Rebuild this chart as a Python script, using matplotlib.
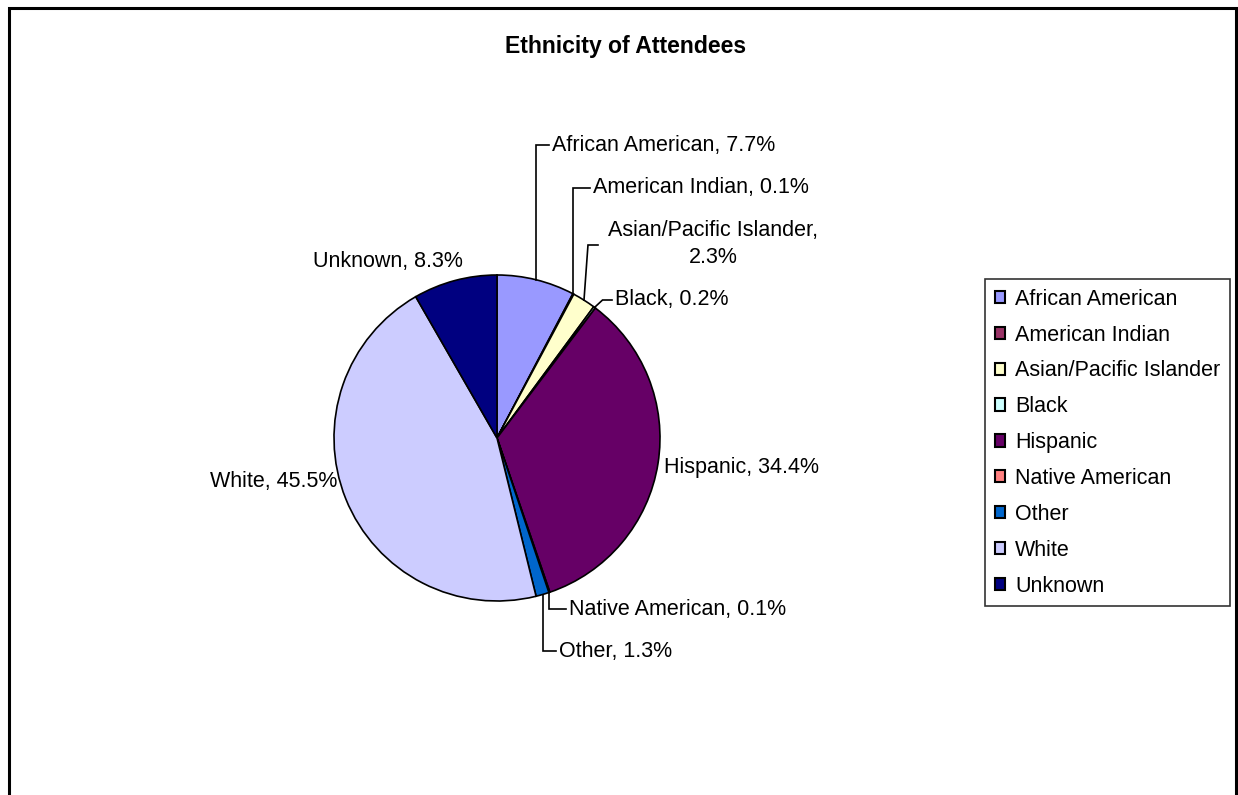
import numpy as np
import matplotlib.pyplot as plt

plt.rcParams['font.family'] = ['Liberation Sans', 'DejaVu Sans']

# Data
groups = ['African American', 'American Indian', 'Asian/Pacific Islander', 'Black',
          'Hispanic', 'Native American', 'Other', 'White', 'Unknown']
shares = [7.7, 0.1, 2.3, 0.2, 34.4, 0.1, 1.3, 45.5, 8.3]
colors = ['#9999FF', '#993366', '#FFFFCC', '#CCFFFF', '#660066',
          '#FF8080', '#0066CC', '#CCCCFF', '#000080']

W, H = 1238, 795
fig = plt.figure(figsize=(W / 100, H / 100), dpi=100)
ax = fig.add_axes([0, 0, 1, 1])

cx, cy, r = 497, H - 438, 163
wedges, _ = ax.pie(shares, colors=colors, startangle=90, counterclock=False,
                   center=(cx, cy), radius=r, frame=True,
                   wedgeprops=dict(edgecolor='black', linewidth=1.2))
ax.set_xlim(0, W)
ax.set_ylim(0, H)
ax.set_aspect('equal')
ax.axis('off')

fs = 15.5

# label layout: (text x, text y in px from top, ha, leader style)
layout = {
    'African American': (552, 145, 'left', 'elbow'),
    'American Indian': (593, 188, 'left', 'elbow'),
    'Asian/Pacific Islander': (713, 244, 'center', 'asian'),
    'Black': (615, 300, 'left', 'diag'),
    'Hispanic': (664, 468, 'left', None),
    'Native American': (569, 609, 'left', 'elbow'),
    'Other': (559, 651, 'left', 'elbow'),
    'White': (337, 482, 'right', None),
    'Unknown': (388, 262, 'center', None),
}

for w, name, val in zip(wedges, groups, shares):
    tx, ty, ha, style = layout[name]
    ty = H - ty
    label = f'{name}, {val}%'
    if name == 'Asian/Pacific Islander':
        label = f'{name},\n{val}%'
    ax.text(tx, ty, label, ha=ha, va='center', fontsize=fs,
            multialignment='center', linespacing=1.4)
    if style is None:
        continue
    mid = np.deg2rad((w.theta1 + w.theta2) / 2)
    px = cx + r * np.cos(mid)
    py = cy + r * np.sin(mid)
    if style == 'elbow':
        xs = [px, px, tx - 3]
        ys = [py, ty, ty]
    elif style == 'asian':
        ly = H - 245
        xs = [px, px + 4, px + 14]
        ys = [py, ly, ly]
    else:
        xs = [px, px + 8, tx - 3]
        ys = [py, ty, ty]
    ax.plot(xs, ys, color='black', linewidth=1.2, solid_joinstyle='miter')

ax.text(626, H - 47, 'Ethnicity of Attendees', ha='center', va='center',
        fontsize=16.6, fontweight='bold')

leg = ax.legend(wedges, groups, loc='upper left',
                bbox_to_anchor=(985 / W, 1 - 279 / H), bbox_transform=fig.transFigure,
                fontsize=fs, frameon=True, fancybox=False, handlelength=0.5,
                handleheight=0.5, handletextpad=0.45, labelspacing=0.69,
                borderpad=0.45, borderaxespad=0)
leg.get_frame().set_edgecolor('black')
leg.get_frame().set_linewidth(1.2)
for h in leg.legend_handles:
    h.set_edgecolor('black')
    h.set_linewidth(1.5)

# chart area border
ax.plot([9, 9, 1236, 1236], [0, H - 8, H - 8, 0], color='black', linewidth=2.2,
        solid_joinstyle='miter')

fig.savefig('out.png', dpi=100)
